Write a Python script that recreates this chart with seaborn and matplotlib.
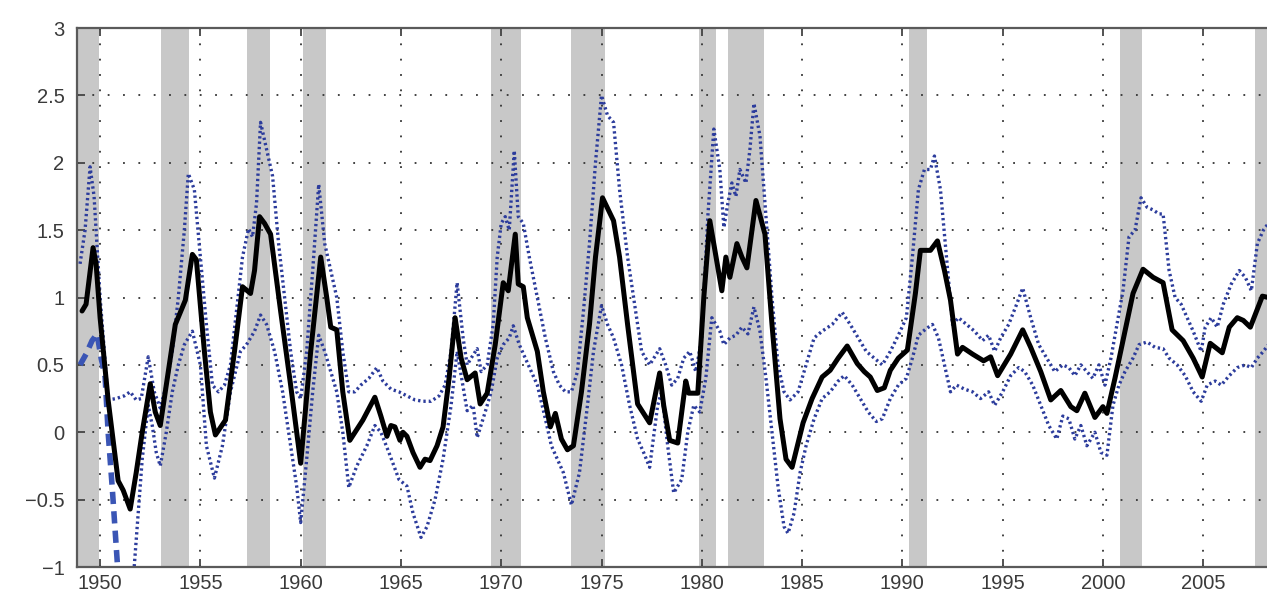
import matplotlib
matplotlib.use("Agg")
import matplotlib.pyplot as plt
import seaborn as sns

# recession bands (start, end)
rec_start = [1948.85, 1953.05, 1957.3, 1960.1, 1969.5, 1973.5, 1979.85, 1981.3, 1990.35, 2000.85, 2007.6]
rec_end = [1949.95, 1954.45, 1958.45, 1961.25, 1971.0, 1975.15, 1980.7, 1983.1, 1991.25, 2001.95, 2009.0]

# central estimate (thick black line)
mid_years = [1949.1, 1949.3, 1949.65, 1949.8, 1950.0, 1950.4, 1950.9, 1951.15, 1951.5, 1951.8,
             1952.1, 1952.5, 1952.75, 1953.0, 1953.4, 1953.75, 1954.25, 1954.6, 1954.8, 1955.2,
             1955.5, 1955.75, 1956.25, 1956.7, 1957.1, 1957.5, 1957.7, 1957.95, 1958.2, 1958.5,
             1959.0, 1959.5, 1960.0, 1960.5, 1961.0, 1961.3, 1961.5, 1961.8, 1962.1, 1962.45,
             1963.1, 1963.7, 1964.0, 1964.3, 1964.5, 1964.7, 1964.95, 1965.1, 1965.3, 1965.6,
             1965.95, 1966.2, 1966.45, 1966.8, 1967.1, 1967.4, 1967.7, 1968.0, 1968.3, 1968.7,
             1968.95, 1969.3, 1969.7, 1970.1, 1970.35, 1970.7, 1970.85, 1971.1, 1971.3, 1971.8,
             1972.1, 1972.45, 1972.7, 1973.0, 1973.3, 1973.6, 1974.0, 1974.4, 1974.7, 1975.05,
             1975.6, 1975.9, 1976.3, 1976.8, 1977.4, 1977.9, 1978.1, 1978.4, 1978.8, 1979.2,
             1979.35, 1979.8, 1980.1, 1980.4, 1981.0, 1981.2, 1981.4, 1981.75, 1982.0, 1982.25,
             1982.7, 1983.15, 1983.5, 1983.9, 1984.2, 1984.5, 1985.05, 1985.5, 1986.0, 1986.4,
             1986.8, 1987.25, 1987.75, 1988.1, 1988.4, 1988.75, 1989.1, 1989.4, 1989.8, 1990.25,
             1990.65, 1990.9, 1991.4, 1991.75, 1992.1, 1992.4, 1992.75, 1993.0, 1993.5, 1994.05,
             1994.4, 1994.75, 1995.4, 1996.0, 1996.4, 1996.9, 1997.4, 1997.9, 1998.4, 1998.7,
             1999.1, 1999.6, 2000.0, 2000.2, 2000.6, 2001.0, 2001.5, 2002.0, 2002.5, 2003.0,
             2003.45, 2004.0, 2004.5, 2004.95, 2005.35, 2005.95, 2006.3, 2006.7, 2007.0, 2007.35,
             2007.95, 2008.25]
mid_vals = [0.9, 0.95, 1.37, 1.25, 0.85, 0.24, -0.36, -0.43, -0.57, -0.3,
            0.0, 0.36, 0.15, 0.05, 0.45, 0.8, 0.98, 1.32, 1.28, 0.6,
            0.15, -0.02, 0.09, 0.6, 1.08, 1.03, 1.2, 1.6, 1.55, 1.47,
            0.9, 0.35, -0.23, 0.6, 1.3, 1.0, 0.78, 0.76, 0.3, -0.06,
            0.09, 0.26, 0.12, -0.03, 0.05, 0.04, -0.06, 0.0, -0.03, -0.15,
            -0.26, -0.2, -0.21, -0.1, 0.04, 0.4, 0.85, 0.55, 0.39, 0.44,
            0.21, 0.29, 0.65, 1.11, 1.05, 1.47, 1.1, 1.08, 0.85, 0.6,
            0.3, 0.04, 0.14, -0.05, -0.13, -0.1, 0.3, 0.8, 1.3, 1.74,
            1.57, 1.3, 0.8, 0.21, 0.07, 0.44, 0.2, -0.06, -0.08, 0.38,
            0.29, 0.29, 1.0, 1.57, 1.05, 1.3, 1.15, 1.4, 1.3, 1.22,
            1.72, 1.47, 0.8, 0.1, -0.2, -0.26, 0.07, 0.25, 0.41, 0.46,
            0.55, 0.64, 0.51, 0.45, 0.41, 0.31, 0.33, 0.46, 0.55, 0.61,
            1.03, 1.35, 1.35, 1.42, 1.2, 0.98, 0.58, 0.63, 0.58, 0.53,
            0.56, 0.42, 0.58, 0.76, 0.63, 0.45, 0.24, 0.31, 0.19, 0.16,
            0.29, 0.11, 0.19, 0.14, 0.4, 0.68, 1.03, 1.21, 1.15, 1.11,
            0.76, 0.68, 0.55, 0.41, 0.66, 0.59, 0.78, 0.85, 0.83, 0.78,
            1.01, 1.0]

# upper band (blue dotted)
up_years = [1949.0, 1949.25, 1949.5, 1949.7, 1950.0, 1950.4, 1950.8, 1951.2, 1951.5, 1951.8,
            1952.05, 1952.4, 1952.7, 1953.0, 1953.3, 1953.6, 1953.9, 1954.2, 1954.4, 1954.7,
            1955.0, 1955.3, 1955.6, 1955.9, 1956.2, 1956.5, 1956.8, 1957.1, 1957.4, 1957.6,
            1957.8, 1958.0, 1958.3, 1958.6, 1958.9, 1959.2, 1959.5, 1959.8, 1960.0, 1960.3,
            1960.6, 1960.9, 1961.2, 1961.5, 1961.8, 1962.1, 1962.4, 1962.7, 1963.0, 1963.4,
            1963.8, 1964.1, 1964.5, 1964.9, 1965.3, 1965.7, 1966.1, 1966.5, 1966.9, 1967.2,
            1967.5, 1967.8, 1968.1, 1968.3, 1968.5, 1968.8, 1969.0, 1969.3, 1969.6, 1969.8,
            1970.0, 1970.2, 1970.4, 1970.65, 1970.85, 1971.1, 1971.4, 1971.8, 1972.2, 1972.6,
            1972.9, 1973.2, 1973.5, 1973.8, 1974.1, 1974.4, 1974.7, 1975.0, 1975.3, 1975.6,
            1975.9, 1976.3, 1976.7, 1977.0, 1977.4, 1977.9, 1978.2, 1978.5, 1978.8, 1979.1,
            1979.4, 1979.7, 1980.0, 1980.3, 1980.6, 1980.9, 1981.1, 1981.3, 1981.5, 1981.7,
            1981.9, 1982.2, 1982.4, 1982.6, 1982.9, 1983.2, 1983.5, 1983.8, 1984.1, 1984.4,
            1984.8, 1985.2, 1985.6, 1986.0, 1986.5, 1987.0, 1987.4, 1987.8, 1988.2, 1988.6,
            1989.0, 1989.4, 1989.8, 1990.2, 1990.5, 1990.8, 1991.1, 1991.4, 1991.6, 1991.9,
            1992.2, 1992.5, 1992.8, 1993.2, 1993.6, 1994.0, 1994.3, 1994.6, 1994.9, 1995.3,
            1995.7, 1996.0, 1996.4, 1996.8, 1997.2, 1997.6, 1998.0, 1998.3, 1998.6, 1998.9,
            1999.2, 1999.5, 1999.8, 2000.1, 2000.4, 2000.7, 2001.0, 2001.3, 2001.6, 2001.9,
            2002.2, 2002.5, 2002.8, 2003.0, 2003.3, 2003.6, 2003.9, 2004.2, 2004.5, 2004.9,
            2005.1, 2005.4, 2005.7, 2006.0, 2006.4, 2006.8, 2007.1, 2007.4, 2007.7, 2008.0,
            2008.25]
up_vals = [1.25, 1.5, 1.97, 1.75, 1.0, 0.24, 0.25, 0.27, 0.3, 0.24,
           0.25, 0.56, 0.3, 0.18, 0.35, 0.6, 1.0, 1.5, 1.92, 1.8,
           1.3, 0.8, 0.35, 0.3, 0.35, 0.5, 0.9, 1.3, 1.51, 1.45,
           1.7, 2.3, 2.1, 1.9, 1.4, 1.0, 0.6, 0.3, 0.25, 0.6,
           1.2, 1.84, 1.4, 1.2, 1.0, 0.6, 0.3, 0.3, 0.35, 0.4,
           0.48, 0.38, 0.32, 0.3, 0.27, 0.24, 0.23, 0.23, 0.27, 0.35,
           0.6, 1.11, 0.7, 0.5, 0.55, 0.62, 0.45, 0.5, 0.8, 1.3,
           1.55, 1.6, 1.5, 2.09, 1.6, 1.55, 1.3, 1.0, 0.7, 0.45,
           0.35, 0.3, 0.3, 0.45, 0.9, 1.4, 2.0, 2.5, 2.35, 2.3,
           1.8, 1.3, 0.9, 0.6, 0.5, 0.62, 0.5, 0.35, 0.4, 0.55,
           0.6, 0.45, 0.7, 1.6, 2.25, 1.95, 1.52, 1.7, 1.85, 1.75,
           1.95, 1.85, 2.1, 2.44, 2.2, 1.6, 1.0, 0.5, 0.3, 0.24,
           0.3, 0.5, 0.7, 0.75, 0.8, 0.89, 0.8, 0.7, 0.6, 0.55,
           0.5, 0.6, 0.72, 0.85, 1.3, 1.8, 1.95, 1.95, 2.05, 1.8,
           1.3, 0.8, 0.85, 0.8, 0.75, 0.68, 0.72, 0.6, 0.7, 0.8,
           0.95, 1.07, 0.85, 0.65, 0.55, 0.45, 0.5, 0.48, 0.42, 0.5,
           0.45, 0.4, 0.5, 0.35, 0.55, 0.8, 1.05, 1.45, 1.5, 1.74,
           1.67, 1.65, 1.62, 1.62, 1.2, 1.0, 0.95, 0.85, 0.75, 0.6,
           0.78, 0.85, 0.78, 0.95, 1.1, 1.2, 1.15, 1.05, 1.4, 1.5,
           1.55]

# lower band (blue dotted)
low_years = [1951.6, 1951.9, 1952.1, 1952.4, 1952.6, 1952.8, 1953.0, 1953.3, 1953.6, 1953.9,
             1954.2, 1954.6, 1955.0, 1955.3, 1955.7, 1956.1, 1956.5, 1957.0, 1957.3, 1957.7,
             1958.0, 1958.3, 1958.7, 1959.1, 1959.5, 1959.8, 1960.0, 1960.3, 1960.6, 1960.9,
             1961.2, 1961.5, 1961.8, 1962.1, 1962.4, 1962.8, 1963.3, 1963.7, 1964.0, 1964.4,
             1964.9, 1965.3, 1965.6, 1966.0, 1966.3, 1966.7, 1967.1, 1967.5, 1967.8, 1968.3,
             1968.6, 1968.8, 1969.2, 1969.5, 1969.8, 1970.1, 1970.4, 1970.6, 1970.9, 1971.2,
             1971.5, 1971.8, 1972.2, 1972.5, 1972.8, 1973.1, 1973.5, 1973.9, 1974.3, 1974.6,
             1975.0, 1975.3, 1975.6, 1976.0, 1976.4, 1976.8, 1977.1, 1977.4, 1977.8, 1978.0,
             1978.3, 1978.6, 1979.0, 1979.3, 1979.6, 1979.9, 1980.2, 1980.5, 1980.9, 1981.1,
             1981.4, 1981.7, 1982.0, 1982.3, 1982.6, 1982.9, 1983.2, 1983.5, 1983.8, 1984.1,
             1984.3, 1984.6, 1984.9, 1985.2, 1985.6, 1986.0, 1986.4, 1986.8, 1987.1, 1987.5,
             1987.9, 1988.3, 1988.7, 1989.0, 1989.4, 1989.8, 1990.2, 1990.5, 1990.8, 1991.2,
             1991.5, 1991.8, 1992.1, 1992.4, 1992.7, 1993.1, 1993.5, 1993.9, 1994.3, 1994.6,
             1995.0, 1995.4, 1995.8, 1996.1, 1996.5, 1996.9, 1997.3, 1997.7, 1998.0, 1998.3,
             1998.6, 1998.9, 1999.2, 1999.6, 1999.9, 2000.2, 2000.5, 2000.8, 2001.1, 2001.5,
             2001.8, 2002.2, 2002.6, 2003.0, 2003.3, 2003.7, 2004.1, 2004.5, 2004.9, 2005.2,
             2005.6, 2005.9, 2006.3, 2006.7, 2007.1, 2007.4, 2007.7, 2008.0, 2008.25]
low_vals = [-1.2, -0.6, -0.2, 0.2, 0.05, -0.15, -0.25, 0.0, 0.3, 0.5,
            0.65, 0.75, 0.5, -0.1, -0.34, -0.1, 0.3, 0.6, 0.65, 0.75,
            0.87, 0.8, 0.6, 0.3, -0.1, -0.4, -0.67, -0.2, 0.3, 0.72,
            0.6, 0.45, 0.3, 0.0, -0.41, -0.25, -0.1, 0.05, 0.0, -0.15,
            -0.35, -0.4, -0.6, -0.78, -0.7, -0.5, -0.2, 0.2, 0.6, 0.16,
            0.2, -0.04, 0.15, 0.3, 0.55, 0.65, 0.7, 0.79, 0.65, 0.55,
            0.45, 0.35, 0.1, -0.1, -0.2, -0.3, -0.54, -0.3, 0.2, 0.6,
            0.94, 0.8, 0.7, 0.5, 0.2, -0.05, -0.15, -0.26, 0.2, 0.3,
            -0.1, -0.45, -0.35, 0.0, 0.2, 0.15, 0.4, 0.85, 0.75, 0.65,
            0.7, 0.72, 0.78, 0.73, 0.93, 0.75, 0.4, 0.0, -0.4, -0.7,
            -0.75, -0.6, -0.3, -0.1, 0.1, 0.25, 0.3, 0.38, 0.42, 0.35,
            0.25, 0.15, 0.08, 0.1, 0.25, 0.35, 0.4, 0.55, 0.72, 0.77,
            0.8, 0.7, 0.5, 0.3, 0.35, 0.32, 0.3, 0.25, 0.3, 0.2,
            0.3, 0.42, 0.48, 0.45, 0.35, 0.2, 0.05, -0.05, 0.12, 0.1,
            -0.05, 0.05, -0.1, 0.0, -0.15, -0.17, 0.2, 0.35, 0.45, 0.55,
            0.65, 0.67, 0.63, 0.62, 0.55, 0.5, 0.42, 0.3, 0.23, 0.35,
            0.38, 0.35, 0.42, 0.48, 0.5, 0.48, 0.55, 0.6, 0.65]

# early estimate that drops off the chart (thick blue dashed)
early_years = [1949.0, 1949.3, 1949.6, 1949.85, 1950.05, 1950.25, 1950.4, 1950.6, 1950.85, 1951.0]
early_vals = [0.5, 0.58, 0.68, 0.73, 0.55, 0.41, 0.0, -0.4, -0.95, -1.3]

x_ticks = [1950, 1955, 1960, 1965, 1970, 1975, 1980, 1985, 1990, 1995, 2000, 2005]
y_ticks = [-1, -0.5, 0, 0.5, 1, 1.5, 2, 2.5, 3]
y_labels = ['\u22121', '\u22120.5', '0', '0.5', '1', '1.5', '2', '2.5', '3']

sns.set_style('white')
plt.rcParams['font.family'] = ['Liberation Sans', 'DejaVu Sans']

fig = plt.figure(figsize=(12.67, 5.92), dpi=100)
ax = fig.add_axes([0.0608, 0.0422, 0.9395, 0.9105])

# shaded recessions
for s, e in zip(rec_start, rec_end):
    ax.axvspan(s, e, color='#c8c8c8', lw=0, zorder=1)

blue = '#2c3c9c'
sns.lineplot(x=up_years, y=up_vals, ax=ax, color=blue, linewidth=2.4,
             linestyle=(0, (0.7, 0.9)), estimator=None, sort=False, zorder=3)
sns.lineplot(x=low_years, y=low_vals, ax=ax, color=blue, linewidth=2.4,
             linestyle=(0, (0.7, 0.9)), estimator=None, sort=False, zorder=3)
sns.lineplot(x=early_years, y=early_vals, ax=ax, color='#3a55b5', linewidth=4.0,
             linestyle=(0, (2.2, 1.3)), estimator=None, sort=False, zorder=3)
sns.lineplot(x=mid_years, y=mid_vals, ax=ax, color='black', linewidth=3.6,
             estimator=None, sort=False, zorder=4)

ax.set_xlim(1948.85, 2008.2)
ax.set_ylim(-1, 3)
ax.set_xticks(x_ticks)
ax.set_yticks(y_ticks)
ax.set_yticklabels(y_labels)
ax.set_xlabel('')
ax.set_ylabel('')

ax.grid(True, color='#333333', linestyle=(0, (1, 7.5)), linewidth=1.3)
ax.set_axisbelow(False)
for gl in ax.get_xgridlines() + ax.get_ygridlines():
    gl.set_zorder(2)

ax.tick_params(direction='in', bottom=True, top=True, left=True, right=False,
               length=6, width=1.3, color='#444444', labelcolor='#3a3a3a',
               labelsize=14.5)
ax.tick_params(axis='x', pad=5)
ax.tick_params(axis='y', pad=9)
for side in ['left', 'top', 'bottom']:
    ax.spines[side].set_color('#5a5a5a')
    ax.spines[side].set_linewidth(1.6)
    ax.spines[side].set_zorder(5)
ax.spines['right'].set_visible(False)

fig.savefig('out.png', dpi=100)
